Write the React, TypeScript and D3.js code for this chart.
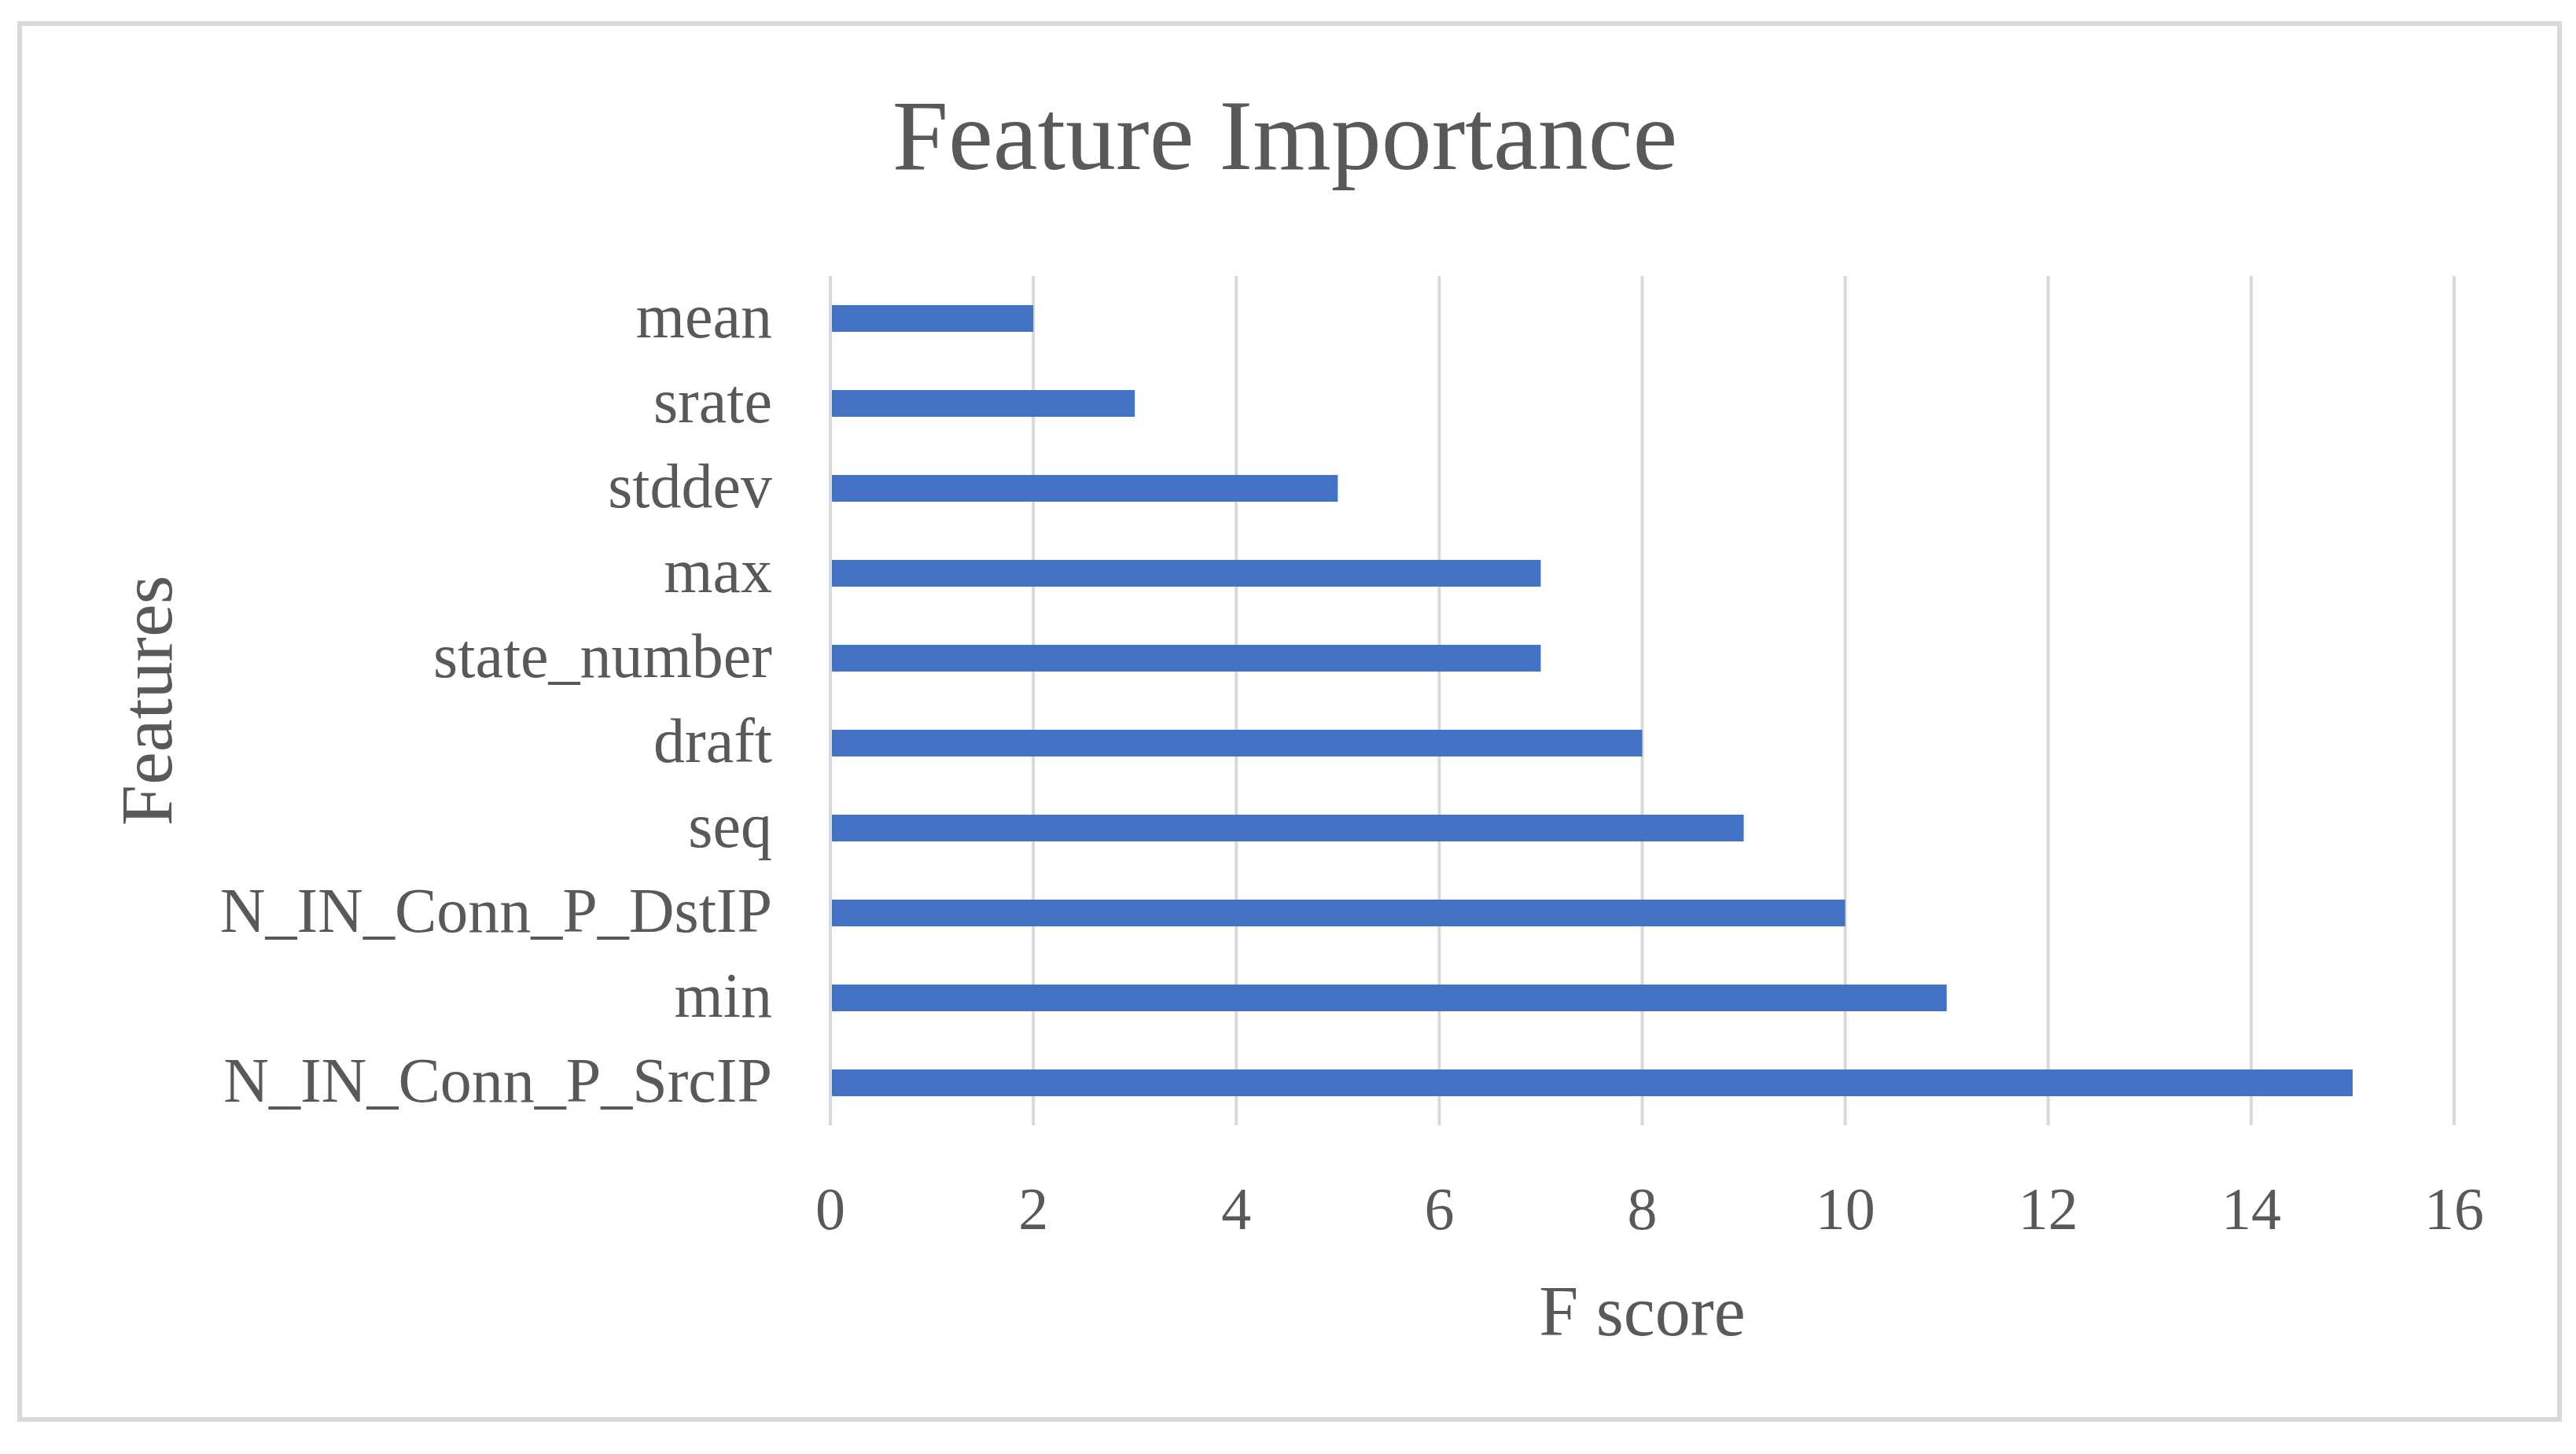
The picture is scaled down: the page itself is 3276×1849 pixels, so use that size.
import { useEffect, useRef } from 'react';
import * as d3 from 'd3';

// Features from top to bottom, with their F score
const features = [
  'mean',
  'srate',
  'stddev',
  'max',
  'state_number',
  'draft',
  'seq',
  'N_IN_Conn_P_DstIP',
  'min',
  'N_IN_Conn_P_SrcIP',
];
const scores = [2, 3, 5, 7, 7, 8, 9, 10, 11, 15];
const xTicks = [0, 2, 4, 6, 8, 10, 12, 14, 16];

const W = 3276;
const H = 1849;
const FONT = '"Liberation Serif", "DejaVu Serif", serif';

const App = () => {
  const svgRef = useRef<SVGSVGElement>(null);

  useEffect(() => {
    const svg = d3.select(svgRef.current);
    svg.selectAll('*').remove();

    const data = features.map((f, i) => ({ feature: f, score: scores[i] }));

    // plot area
    const left = 1056;
    const right = 3121;
    const top = 351;
    const bottom = 1431;

    // white background + light frame
    svg.append('rect').attr('width', W).attr('height', H).attr('fill', '#fff');
    svg.append('rect')
      .attr('x', 25)
      .attr('y', 30)
      .attr('width', 3230)
      .attr('height', 1775)
      .attr('fill', '#fff')
      .attr('stroke', '#d9d9d9')
      .attr('stroke-width', 6);

    const x = d3.scaleLinear().domain([0, 16]).range([left, right]);
    const y = d3.scaleBand()
      .domain(features)
      .range([top, bottom])
      .paddingInner(0.685)
      .paddingOuter(0.3425);

    // vertical gridlines
    svg.append('g')
      .selectAll('line')
      .data(xTicks)
      .enter()
      .append('line')
      .attr('x1', d => x(d))
      .attr('x2', d => x(d))
      .attr('y1', top)
      .attr('y2', bottom)
      .attr('stroke', '#d9d9d9')
      .attr('stroke-width', 4);

    // bars
    svg.append('g')
      .selectAll('rect')
      .data(data)
      .enter()
      .append('rect')
      .attr('x', x(0) + 2)
      .attr('y', d => y(d.feature)!)
      .attr('width', d => x(d.score) - x(0) - 2)
      .attr('height', y.bandwidth())
      .attr('fill', '#4472c4');

    // category labels
    svg.append('g')
      .selectAll('text')
      .data(data)
      .enter()
      .append('text')
      .attr('x', 982)
      .attr('y', d => y(d.feature)! + y.bandwidth() / 2)
      .attr('dy', '0.3em')
      .attr('text-anchor', 'end')
      .attr('font-family', FONT)
      .attr('font-size', 80)
      .attr('fill', '#595959')
      .text(d => d.feature);

    // x tick labels
    svg.append('g')
      .selectAll('text')
      .data(xTicks)
      .enter()
      .append('text')
      .attr('x', d => x(d))
      .attr('y', 1563)
      .attr('text-anchor', 'middle')
      .attr('font-family', FONT)
      .attr('font-size', 76)
      .attr('fill', '#595959')
      .text(d => d);

    // title
    svg.append('text')
      .attr('x', 1634)
      .attr('y', 215)
      .attr('text-anchor', 'middle')
      .attr('font-family', FONT)
      .attr('font-size', 128)
      .attr('fill', '#595959')
      .text('Feature Importance');

    // x-axis label
    svg.append('text')
      .attr('x', (left + right) / 2)
      .attr('y', 1698)
      .attr('text-anchor', 'middle')
      .attr('font-family', FONT)
      .attr('font-size', 90)
      .attr('fill', '#595959')
      .text('F score');

    // y-axis label
    svg.append('text')
      .attr('transform', `translate(218,${(top + bottom) / 2}) rotate(-90)`)
      .attr('text-anchor', 'middle')
      .attr('font-family', FONT)
      .attr('font-size', 94)
      .attr('fill', '#595959')
      .text('Features');
  }, []);

  return (
    <svg
      ref={svgRef}
      width={W}
      height={H}
      style={{ position: 'absolute', left: 0, top: 0 }}
    ></svg>
  );
};

export default App;
